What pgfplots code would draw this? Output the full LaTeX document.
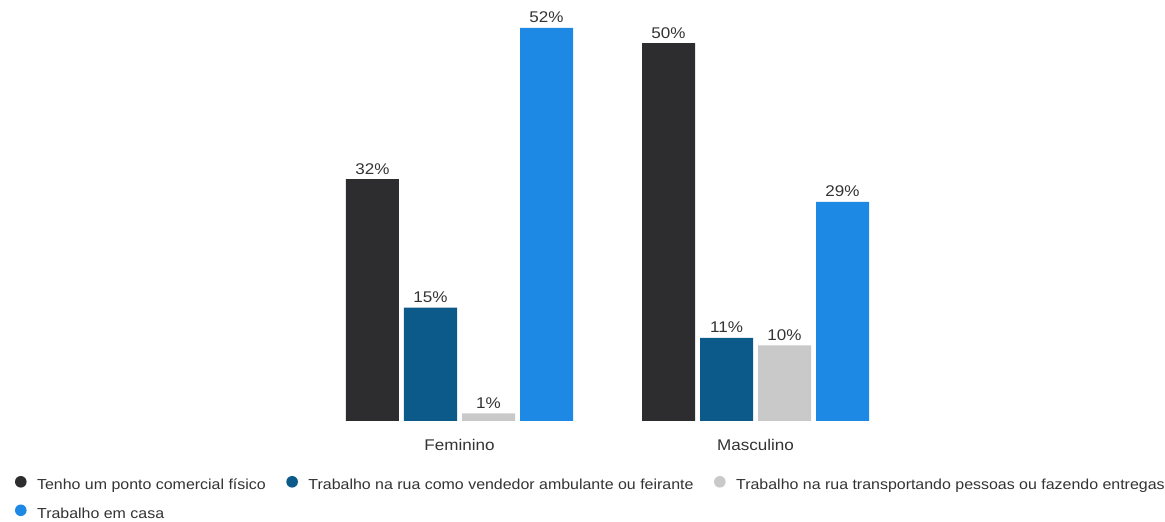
\documentclass[border=0pt]{standalone}
\usepackage{pgfplots}
\pgfplotsset{compat=1.18}
\usepackage{fontspec}
\setmainfont{Liberation Sans}[FakeStretch=1.1]
\definecolor{c1}{HTML}{2D2D2F}
\definecolor{c2}{HTML}{0B5A8A}
\definecolor{c3}{HTML}{C9C9C9}
\definecolor{c4}{HTML}{1E88E5}
\definecolor{txt}{HTML}{333333}
\pgfplotsset{dotlegend/.style={legend image code/.code={\fill[##1] (5.5pt,0.36em) circle (5.8pt);}}}
\begin{document}
\begin{tikzpicture}[x=1pt,y=1pt]
\path[use as bounding box] (0,0) rectangle (1165,522);
\begin{axis}[
  at={(311.5pt,101pt)}, anchor=south west,
  scale only axis, width=592pt, height=393pt,
  xmin=-0.5, xmax=1.5, ymin=0, ymax=52,
  clip=false,
  axis line style={draw=none},
  major tick length=0pt,
  ytick=\empty,
  xtick={0,1}, xticklabels={Feminino,Masculino},
  xticklabel style={font=\fontsize{15.5}{18}\selectfont, text=txt, anchor=base, yshift=-30pt},
  /pgf/number format/assume math mode=true,
  nodes near coords={\pgfmathprintnumber{\pgfplotspointmeta}\%},
  every node near coord/.append style={font=\fontsize{15.5}{18}\selectfont, text=txt, anchor=base, inner sep=0pt, yshift=5pt},
  legend columns=3,
  legend cell align=left,
  legend style={at={(axis description cs:-0.50084,-0.13995)}, anchor=north west,
    draw=none, fill=none, inner sep=0pt, outer sep=0pt,
    font=\fontsize{14.5}{17}\selectfont, text=txt, row sep=11pt,
    /tikz/every odd column/.append style={column sep=8.5pt},
    /tikz/every even column/.append style={column sep=18.5pt}},
]
\addplot[ybar, bar width=53pt, bar shift=-87pt, fill=c1, draw=none, dotlegend,
  every node near coord/.append style={xshift=-87pt}]
  coordinates {(0,32) (1,50)};
\addlegendentry{Tenho um ponto comercial físico}
\addplot[ybar, bar width=53pt, bar shift=-29pt, fill=c2, draw=none, dotlegend,
  every node near coord/.append style={xshift=-29pt}]
  coordinates {(0,15) (1,11)};
\addlegendentry{Trabalho na rua como vendedor ambulante ou feirante}
\addplot[ybar, bar width=53pt, bar shift=29pt, fill=c3, draw=none, dotlegend,
  every node near coord/.append style={xshift=29pt}]
  coordinates {(0,1) (1,10)};
\addlegendentry{Trabalho na rua transportando pessoas ou fazendo entregas}
\addplot[ybar, bar width=53pt, bar shift=87pt, fill=c4, draw=none, dotlegend,
  every node near coord/.append style={xshift=87pt}]
  coordinates {(0,52) (1,29)};
\addlegendentry{Trabalho em casa}
\end{axis}
\end{tikzpicture}
\end{document}
